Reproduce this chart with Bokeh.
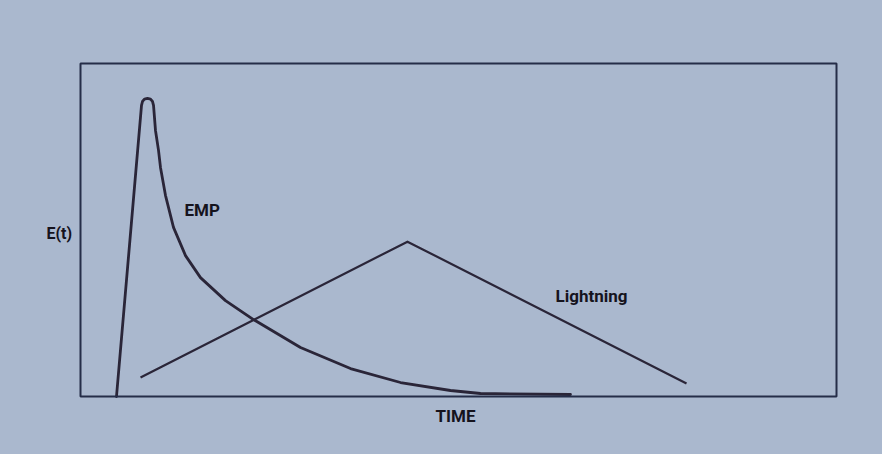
from bokeh.plotting import figure
from bokeh.models import Range1d, Label, BoxAnnotation
from bokeh.embed import file_html
from bokeh.resources import INLINE

# EMP pulse (time in arbitrary units 0-100, field in % of box height)
emp_t = [4.76, 8.07, 8.20, 8.46, 8.86, 9.26, 9.52, 9.66, 9.92, 10.32, 10.58,
         11.24, 12.30, 13.89, 15.87, 19.18, 22.88, 29.10, 35.71, 42.33,
         48.94, 52.91, 64.81]
emp_e = [0.0, 87.4, 88.6, 89.3, 89.5, 89.3, 88.6, 87.4, 79.9, 73.9, 68.8,
         60.4, 50.8, 42.3, 35.7, 28.8, 23.1, 14.7, 8.4, 4.2,
         1.8, 0.9, 0.6]

# Lightning pulse
lt_t = [7.94, 43.25, 80.16]
lt_e = [5.7, 46.5, 3.9]

BG = "#aab8ce"
INK = "#2a2538"

W, H = 866, 438
# axes box in canvas pixels
BL, BR, BT, BB = 80, 836, 63, 396
sx = (BR - BL) / 100.0
sy = (BB - BT) / 100.0

p = figure(width=W, height=H, output_backend="svg", toolbar_location=None,
           x_range=Range1d(-BL / sx, (W - BL) / sx),
           y_range=Range1d(-(H - BB) / sy, BB / sy),
           min_border=0)
p.xaxis.visible = False
p.yaxis.visible = False
p.grid.visible = False
p.background_fill_color = BG
p.border_fill_color = BG
p.outline_line_color = None

p.add_layout(BoxAnnotation(left=0, right=100, bottom=0, top=100,
                           fill_alpha=0, line_color="#252d48", line_alpha=1.0,
                           line_width=2))

p.line(emp_t, emp_e, line_color=INK, line_width=2.8, line_join="round", line_cap="round")
p.line(lt_t, lt_e, line_color=INK, line_width=2.2, line_join="miter")

FONT = "Roboto"
common = dict(text_font=FONT, text_font_style="bold", text_color="#15131d",
              text_align="center", text_baseline="middle")
p.add_layout(Label(x=-2.8, y=48.9, text="E(t)", text_font_size="16px", **common))
p.add_layout(Label(x=16.1, y=55.9, text="EMP", text_font_size="17px", **common))
p.add_layout(Label(x=67.6, y=30.2, text="Lightning", text_font_size="17px", **common))
p.add_layout(Label(x=49.6, y=-6.0, text="TIME", text_font_size="17px", **common))

html = file_html(p, INLINE)
html = html.replace("<head>", "<head><style>html,body{background:#aab8ce;}</style>", 1)
open("out.html", "w").write(html)
